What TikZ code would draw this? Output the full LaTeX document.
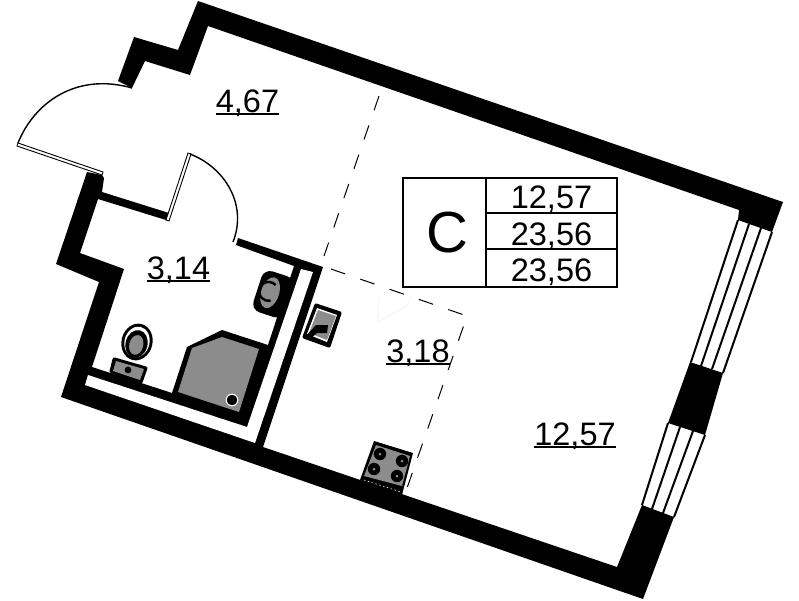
\documentclass[tikz,border=0pt]{standalone}
\usepackage{fontspec}
\setmainfont{Liberation Sans}
\newcommand\ulnum[1]{\setbox0\hbox{#1}\rlap{\rule[-2.5pt]{\wd0}{1.8pt}}#1}
\definecolor{fixgray}{gray}{0.55}
\definecolor{ghost}{gray}{0.96}
\tikzset{
  wall/.style={fill=black,draw=none},
  leaf/.style={draw=black,line width=0.9pt,fill=white},
  swing/.style={draw=black,line width=1.4pt},
  zone/.style={draw=black,line width=1pt,dash pattern=on 15pt off 16pt},
  area/.style={font=\fontsize{32.5pt}{34pt}\selectfont,anchor=base,inner sep=0pt},
  cell/.style={font=\fontsize{32.5pt}{34pt}\selectfont,anchor=base,inner sep=0pt},
  tbl/.style={draw=black,line width=2.4pt},
}
\begin{document}
\begin{tikzpicture}[x=1pt,y=-1pt]
\useasboundingbox (0,0) rectangle (799,600);
% walls
\fill[wall] (198,1) -- (178,50) -- (134,37) -- (118,81) -- (132,88) -- (145,61) -- (190,75) -- (208,26) -- (739,210) -- (738,220) -- (772,232) -- (783,202) -- cycle;
\fill[wall] (87,172) -- (56,264) -- (99,282) -- (61,397) -- (643,599) -- (674,517) -- (642,505) -- (617,567) -- (263,447) -- (323,267) -- (238,238) -- (236,245) -- (294,266) -- (268,345) -- (222,330) -- (187,347) -- (172,393) -- (92,367) -- (124,269) -- (80,253) -- (98,199) -- (166,220) -- (169,213) -- (102,192) -- (104,178) -- (102,175) -- cycle;
% white channel inside the bathroom walls
\fill[white] (88,375) -- (85,385) -- (255,443) -- (313,272) -- (301,269) -- (247,427) -- cycle;
% middle pier
\fill[wall] (690,362) -- (723,373) -- (705,435) -- (668,423) -- cycle;
% window
\foreach \a/\b/\c/\d in {738/220/691/362, 749/224/701/366, 761/228/712/369, 772/232/723/373,
   668/423/642/505, 680/427/652/509, 693/431/663/513, 705/435/674/517}
  \draw[black,line width=2pt] (\a,\b) -- (\c,\d);
% entrance door
\path[leaf] (17,146) -- (18,143) -- (103,172) -- (102,175) -- cycle;
\draw[swing] (18,143) .. controls (34,103) and (76,72) .. (132,88);
% bathroom door
\path[leaf] (166,220) -- (188,153) -- (191,154) -- (169,221) -- cycle;
\draw[swing] (190,154) .. controls (224,167) and (248,204) .. (233,242);
% zone lines
\coordinate (za) at (379,96);
\coordinate (zb) at (324,256);
\coordinate (zc) at (331,269);
\coordinate (zd) at (467,316);
\coordinate (ze) at (406,491);
\draw[zone] (za) -- (zb);
\draw[zone] (zc) -- (zd) -- (ze);
% faint ghost
\draw[ghost,line width=1pt] (379,296) -- (378,322) -- (408,305) -- (412,295);
% shower
\fill[fixgray] (178,392) -- (192,348) -- (222,337) -- (259,349) -- (239,412) -- cycle;
\fill[black] (232,400) circle (5.5);
\draw[white,line width=1pt] (232,400) circle (5.8);
% toilet
\fill[black,rounded corners=2pt] (113,357) -- (109,373) -- (142,384) -- (148,367) -- cycle;
\fill[fixgray] (116,361) -- (113,371) -- (140,380) -- (144,369) -- cycle;
\fill[black] (128,370) circle (3.4);
\begin{scope}[rotate around={-14:(137,342)}]
\fill[black] (137,342) ellipse (15.5 and 18.5);
\fill[white] (137,342) ellipse (12.5 and 15.5);
\fill[black] (137,344) ellipse (11 and 14);
\fill[fixgray] (137,345) ellipse (7 and 10);
\end{scope}
% basin in bathroom
\begin{scope}[rotate around={-18:(271,293)}]
\fill[black,rounded corners=9pt] (257,272) rectangle (290,315);
\fill[fixgray] (270,293) ellipse (9 and 16);
\draw[black,line width=2.4pt] (273,284) arc[start angle=-60,end angle=-300,radius=9.5];
\end{scope}
% kitchen sink
\fill[black,rounded corners=2pt] (315,303) -- (342,312) -- (330,348) -- (302,338) -- cycle;
\fill[white] (317,308) -- (337,315) -- (327,342) -- (307,334) -- cycle;
\fill[fixgray] (318,310) -- (336,316) -- (327,340) -- (309,333) -- cycle;
\fill[black] (305,337) -- (316,325) -- (328,325) -- (327,333) -- (317,333) -- (309,340) -- cycle;
% stove
\fill[black] (374,441) -- (413,453) -- (402,495) -- (360,480) -- cycle;
\fill[fixgray] (376,445) -- (410,456) -- (402,486) -- (364,476) -- cycle;
\draw[white,line width=0.6pt,dash pattern=on 1.5pt off 2.5pt] (364,480) -- (401,492);
\foreach \x/\y in {380/454,402/461,374/469,397/476}{
  \fill[black] (\x,\y) circle (6.2);
  \fill[fixgray] (\x,\y) circle (1.5);
}
% table
\draw[tbl] (403,178) rectangle (617,287);
\draw[tbl] (486,178) -- (486,287);
\draw[tbl] (486,213) -- (617,213);
\draw[tbl] (486,249) -- (617,249);
\node[inner sep=0pt,anchor=base,font=\fontsize{58pt}{59pt}\selectfont] (cls) at (447,252) {C};
\node[cell] (ta) at (551.5,208) {12,57};
\node[cell] (tb) at (551.5,245) {23,56};
\node[cell] (tc) at (551.5,281) {23,56};
% room areas
\node[area] (hall) at (247.5,112) {\ulnum{4,67}};
\node[area] (bath) at (178.5,279) {\ulnum{3,14}};
\node[area] (kitchen) at (418,362) {\ulnum{3,18}};
\node[area] (room) at (575,445) {\ulnum{12,57}};
\end{tikzpicture}
\end{document}
